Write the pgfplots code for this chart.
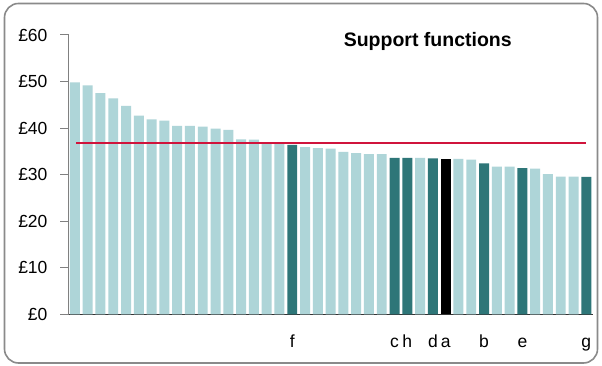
\documentclass[border=0pt]{standalone}
\usepackage{pgfplots}
\pgfplotsset{compat=1.18}
\usepackage{pgfplotstable}
\usepackage{fontspec}
\setmainfont{Liberation Sans}
\definecolor{lightbar}{HTML}{AED5D8}
\definecolor{darkbar}{HTML}{2E7678}
\definecolor{redline}{HTML}{D0143C}
\definecolor{framegray}{HTML}{8A8A8A}

\pgfplotstableread{
x y
1 49.8
2 49.2
3 47.5
4 46.4
5 44.8
6 42.7
7 41.9
8 41.6
9 40.5
10 40.5
11 40.3
12 39.9
13 39.6
14 37.6
15 37.5
16 36.9
17 36.6
19 35.9
20 35.7
21 35.6
22 34.9
23 34.6
24 34.4
25 34.4
28 33.6
31 33.4
32 33.2
34 31.7
35 31.7
37 31.3
38 30.1
39 29.6
40 29.6
}\lightdata

\pgfplotstableread{
x y
18 36.4
26 33.6
27 33.6
29 33.5
33 32.4
36 31.4
41 29.5
}\darkdata

\pgfplotstableread{
x y
30 33.4
}\blackdata

\begin{document}
\begin{tikzpicture}
\useasboundingbox (0,0) rectangle (602pt,366pt);
\fill[white] (0,0) rectangle (602pt,366pt);
\draw[line width=1.6pt, color=framegray, rounded corners=14pt] (4.5pt,3pt) rectangle (597.5pt,362.5pt);
\begin{axis}[
  at={(68.5pt,51.7pt)}, anchor=south west,
  scale only axis,
  width=524.2pt, height=279.3pt,
  xmin=0.5, xmax=41.5,
  ymin=0, ymax=60,
  axis x line=bottom, axis y line=left,
  axis line style={-},
  x axis line style={black!80, line width=1pt},
  y axis line style={gray, line width=1pt},
  ytick={0,10,20,30,40,50,60},
  yticklabels={£0,£10,£20,£30,£40,£50,£60},
  xtick={18,26,27,29,30,33,36,41},
  xticklabels={f,c,h,d,a,b,e,g},
  xtick style={draw=none},
  ytick style={gray, line width=1pt},
  tick align=outside,
  major tick length=8pt,
  tick label style={font=\fontsize{17.5}{20}\selectfont, text=black},
  xticklabel style={text height=12.5pt, text depth=3.5pt, yshift=-9pt},
  yticklabel style={xshift=-9.5pt},
  /pgf/number format/assume math mode=true,
  ybar, bar width=0.78, bar shift=0pt,
  clip=false,
]
\addplot[fill=lightbar, draw=none] table[x=x,y=y] {\lightdata};
\addplot[fill=darkbar, draw=none] table[x=x,y=y] {\darkdata};
\addplot[fill=black, draw=none] table[x=x,y=y] {\blackdata};
\addplot[sharp plot, redline, line width=1.4pt, forget plot] coordinates {(1.1,36.8) (41,36.8)};
\node[anchor=base, font=\fontsize{19.5}{22}\selectfont\bfseries] at (axis cs:28.6,57.6) {Support functions};
\end{axis}
\end{tikzpicture}
\end{document}
